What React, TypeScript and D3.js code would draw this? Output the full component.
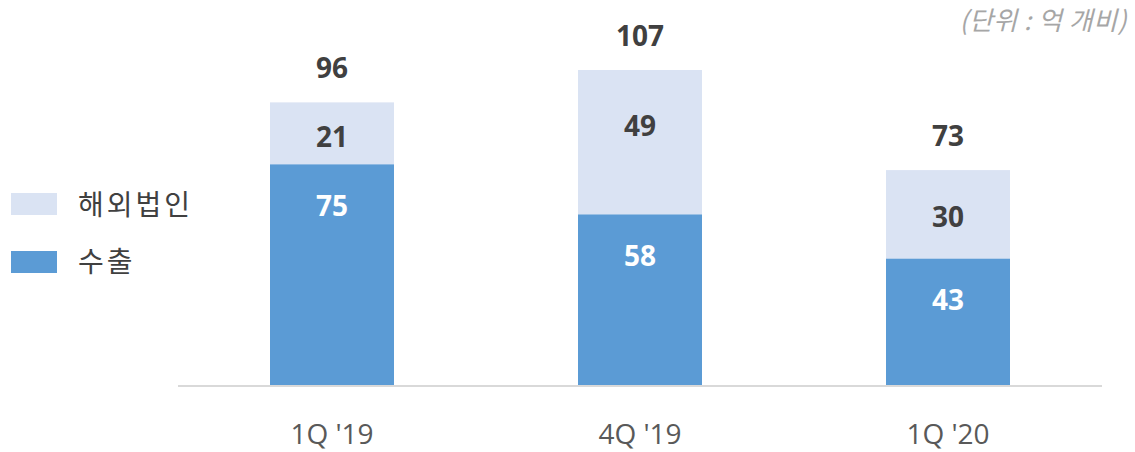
import React from "react";
import * as d3 from "d3";

const categories = ["1Q '19", "4Q '19", "1Q '20"];
const exportValues = [75, 58, 43];
const overseasValues = [21, 49, 30];
const totals = [96, 107, 73];
const seriesNames = ["해외법인", "수출"];
const unitLabel = "(단위 : 억 개비)";

// layout: vertical offset of the 해외법인 label from the top of each bar (px)
const overseasLabelOffset = [35, 56, 47];

const W = 1135;
const H = 452;
const KR = "'Noto Sans CJK KR', sans-serif";
const LAT = "'Open Sans', 'Noto Sans', sans-serif";

export default function App() {
  const x = d3
    .scaleBand<string>()
    .domain(categories)
    .range([178, 1102])
    .paddingInner(0.5974)
    .paddingOuter(0.2987);
  const y = d3.scaleLinear().domain([0, 107]).range([385, 70]);
  const bw = x.bandwidth();

  return (
    <svg width={W} height={H} style={{ position: "absolute", left: 0, top: 0 }}>
      <rect width={W} height={H} fill="#ffffff" />
      <text x={1127} y={21} dy="0.35em" textAnchor="end" fontSize={26} letterSpacing={0.5} fontStyle="italic" fill="#A6A6A6" fontFamily={KR}>
        {unitLabel}
      </text>
      {categories.map((c, i) => {
        const x0 = x(c)!;
        const cx = x0 + bw / 2;
        const yE = y(exportValues[i]);
        const yT = y(exportValues[i] + overseasValues[i]);
        return (
          <g key={c}>
            <rect x={x0} y={yE} width={bw} height={y(0) - yE} fill="#5B9BD5" />
            <rect x={x0} y={yT} width={bw} height={yE - yT} fill="#DAE3F3" />
            <text x={cx} y={yE + 42} dy="0.36em" textAnchor="middle" fontSize={28} fontWeight="bold" fill="#ffffff" fontFamily={LAT}>
              {exportValues[i]}
            </text>
            <text x={cx} y={yT + overseasLabelOffset[i]} dy="0.36em" textAnchor="middle" fontSize={28} fontWeight="bold" fill="#404040" fontFamily={LAT}>
              {overseasValues[i]}
            </text>
            <text x={cx} y={yT - 34} dy="0.36em" textAnchor="middle" fontSize={28} fontWeight="bold" fill="#404040" fontFamily={LAT}>
              {totals[i]}
            </text>
            <text x={cx} y={444} textAnchor="middle" fontSize={28} fill="#595959" fontFamily={LAT}>
              {c}
            </text>
          </g>
        );
      })}
      <line x1={178} x2={1102} y1={386} y2={386} stroke="#D9D9D9" strokeWidth={2} />
      <rect x={11} y={193} width={46} height={22} fill="#DAE3F3" />
      <text x={78} y={205} dy="0.35em" fontSize={28} letterSpacing={3} fill="#404040" fontFamily={KR}>
        {seriesNames[0]}
      </text>
      <rect x={11} y={251} width={46} height={22} fill="#5B9BD5" />
      <text x={78} y={262} dy="0.35em" fontSize={28} letterSpacing={3} fill="#404040" fontFamily={KR}>
        {seriesNames[1]}
      </text>
    </svg>
  );
}
